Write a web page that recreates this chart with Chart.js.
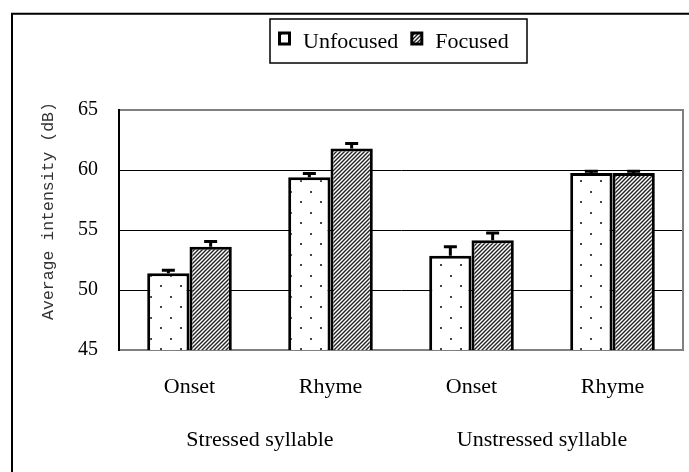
<!DOCTYPE html>
<html>
<head>
<meta charset="utf-8">
<script src="https://cdn.jsdelivr.net/npm/chart.js@4.4.0/dist/chart.umd.min.js"></script>
<style>
  body { margin: 0; background: #fff; }
  #wrap { width: 689px; height: 472px; }
</style>
</head>
<body>
<div id="wrap"><canvas id="grafico" width="689" height="472"></canvas></div>
<script>
const categories = ['Onset', 'Rhyme', 'Onset', 'Rhyme'];
const groups = ['Stressed syllable', 'Unstressed syllable'];
const seriesNames = ['Unfocused', 'Focused'];
const unfocused = [51.4, 59.4, 52.85, 59.75];
const focused = [53.6, 61.8, 54.15, 59.75];
const unfocusedErr = [0.25, 0.3, 0.75, 0.15];
const focusedErr = [0.45, 0.4, 0.6, 0.15];
const yTicks = [45, 50, 55, 60, 65];

const serif = "'Liberation Serif', 'Times New Roman', serif";

function makeDots() {
    const c = document.createElement('canvas');
    c.width = 20; c.height = 21;
    const g = c.getContext('2d');
    g.fillStyle = '#fff';
    g.fillRect(0, 0, 20, 21);
    g.fillStyle = '#444';
    g.fillRect(0, 12, 2, 2);
    g.fillRect(10, 2, 2, 2);
    return g.createPattern(c, 'repeat');
}

function makeHatch() {
    const c = document.createElement('canvas');
    c.width = 4; c.height = 4;
    const g = c.getContext('2d');
    g.fillStyle = '#fff';
    g.fillRect(0, 0, 4, 4);
    g.strokeStyle = '#222';
    g.lineWidth = 1.4;
    g.beginPath();
    g.moveTo(-1, 5); g.lineTo(5, -1);
    g.moveTo(-1, 1); g.lineTo(1, -1);
    g.moveTo(3, 5); g.lineTo(5, 3);
    g.stroke();
    return g.createPattern(c, 'repeat');
}

const dots = makeDots();
const hatch = makeHatch();

// error bars (plus side only), frame, legend box, y title
const extras = {
    id: 'extras',
    afterDatasetsDraw(chart) {
        const ctx = chart.ctx;
        const y = chart.scales.y;
        ctx.save();
        ctx.strokeStyle = '#000';
        ctx.lineWidth = 3;
        chart.data.datasets.forEach((ds, i) => {
            chart.getDatasetMeta(i).data.forEach((bar, j) => {
                const top = y.getPixelForValue(ds.data[j] + ds.errors[j]);
                ctx.beginPath();
                ctx.moveTo(bar.x, bar.y);
                ctx.lineTo(bar.x, top);
                ctx.moveTo(bar.x - 6.5, top);
                ctx.lineTo(bar.x + 6.5, top);
                ctx.stroke();
            });
        });

        // plot area right edge
        const a = chart.chartArea;
        ctx.strokeStyle = '#808080';
        ctx.lineWidth = 2;
        ctx.beginPath();
        ctx.moveTo(a.right, a.top - 1);
        ctx.lineTo(a.right, a.bottom + 1);
        ctx.stroke();
        ctx.restore();
    },
    afterDraw(chart) {
        const ctx = chart.ctx;
        ctx.save();

        // outer frame (cut off at right and bottom)
        ctx.strokeStyle = '#000';
        ctx.lineWidth = 2;
        ctx.beginPath();
        ctx.moveTo(12, 480);
        ctx.lineTo(12, 13.7);
        ctx.lineTo(700, 13.7);
        ctx.stroke();

        // legend
        ctx.lineWidth = 1.5;
        ctx.strokeRect(270, 19, 257, 44);
        ctx.font = '22px ' + serif;
        ctx.textBaseline = 'alphabetic';
        let x = 278;
        chart.data.datasets.forEach(ds => {
            ctx.fillStyle = ds.backgroundColor;
            ctx.fillRect(x + 1.5, 33, 10, 11);
            ctx.lineWidth = 3;
            ctx.strokeStyle = '#000';
            ctx.strokeRect(x + 1.5, 33, 10, 11);
            ctx.fillStyle = '#000';
            ctx.fillText(ds.label, x + 25, 48);
            x += 25 + ctx.measureText(ds.label).width + 12;
        });

        // y axis title
        ctx.translate(49, 211);
        ctx.rotate(-Math.PI / 2);
        ctx.font = "16.5px 'Liberation Mono', monospace";
        ctx.fillStyle = '#333';
        ctx.textAlign = 'center';
        ctx.textBaseline = 'middle';
        ctx.fillText('Average intensity (dB)', 0, 0);
        ctx.restore();
    }
};

new Chart(document.getElementById('grafico'), {
    type: 'bar',
    data: {
        labels: categories,
        datasets: [
            {
                label: seriesNames[0],
                data: unfocused,
                errors: unfocusedErr,
                backgroundColor: dots,
                borderColor: '#000',
                borderWidth: 3,
                borderSkipped: false
            },
            {
                label: seriesNames[1],
                data: focused,
                errors: focusedErr,
                backgroundColor: hatch,
                borderColor: '#000',
                borderWidth: 3,
                borderSkipped: false
            }
        ]
    },
    options: {
        responsive: false,
        animation: false,
        events: [],
        layout: { padding: { top: 110, right: 6, left: 0, bottom: 0 } },
        datasets: { bar: { categoryPercentage: 0.6, barPercentage: 1 } },
        plugins: {
            legend: { display: false },
            tooltip: { enabled: false }
        },
        scales: {
            x: {
                weight: 0,
                grid: { display: false, drawTicks: false },
                border: { display: false },
                ticks: { color: '#000', padding: 24, font: { family: serif, size: 22 } },
                afterFit: s => { s.height = 62; }
            },
            x2: {
                type: 'category',
                labels: groups,
                position: 'bottom',
                weight: 1,
                grid: { display: false, drawTicks: false },
                border: { display: false },
                ticks: { color: '#000', padding: 15, font: { family: serif, size: 22 } },
                afterFit: s => { s.height = 60; }
            },
            y: {
                min: 45,
                max: 65,
                afterBuildTicks: s => { s.ticks = yTicks.map(v => ({ value: v })); },
                grid: {
                    drawTicks: false,
                    color: c => (c.tick.value === 45 || c.tick.value === 65) ? '#808080' : '#000',
                    lineWidth: c => (c.tick.value === 45 || c.tick.value === 65) ? 2 : 1
                },
                border: { display: true, color: '#000', width: 2 },
                ticks: { color: '#000', padding: 21, font: { family: serif, size: 20 } },
                afterFit: s => { s.width = 119; }
            }
        }
    },
    plugins: [extras]
});
</script>
</body>
</html>
